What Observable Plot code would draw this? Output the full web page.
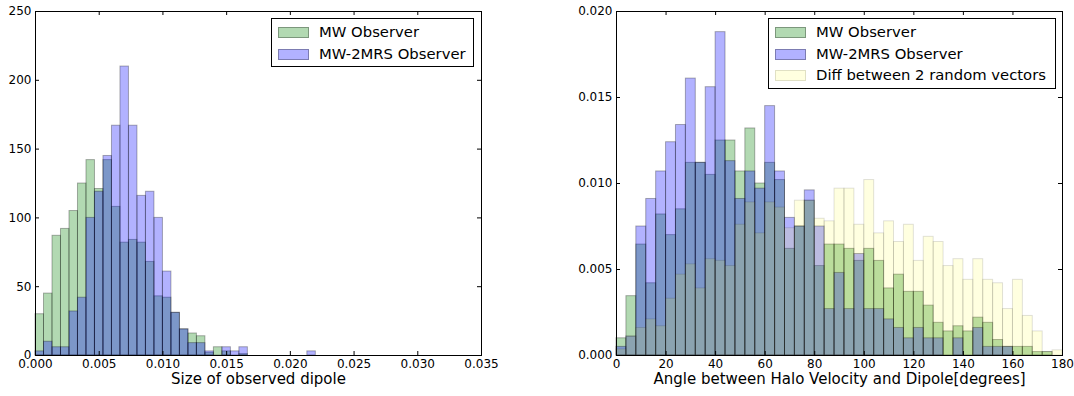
<!DOCTYPE html>
<html>
<head>
<meta charset="utf-8">
<script src="https://cdn.jsdelivr.net/npm/d3@7"></script>
<script src="https://cdn.jsdelivr.net/npm/@observablehq/plot@0.6"></script>
<style>
  html, body { margin: 0; padding: 0; background: #fff; }
  #wrap { position: relative; width: 1074px; height: 396px; font-family: "DejaVu Sans", sans-serif; }
  .panel { position: absolute; top: 0; }
  .legend { position: absolute; background: #fff; border: 1px solid #000; box-sizing: border-box; }
  .row { position: absolute; left: 0; height: 22px; white-space: nowrap; }
  .patch { position: absolute; left: 6px; width: 31px; height: 11px; box-sizing: border-box; border: 1px solid; }
  .lab { position: absolute; left: 47px; font-size: 14.8px; line-height: 16px; color: #000; }
</style>
</head>
<body>
<div id="wrap"></div>
<script>
// ---------- Left panel: Size of observed dipole (counts) ----------
const leftBinWidth = 0.02 / 30;
const leftXTicks = [0, 0.005, 0.010, 0.015, 0.020, 0.025, 0.030, 0.035];
const leftYTicks = [0, 50, 100, 150, 200, 250];
const leftMW = [30, 45, 87, 92, 105, 125, 142, 121, 142, 108, 82, 84, 82, 68, 43, 42, 31, 19, 16, 14, 2, 6, 3, 0, 1, 0, 0, 0, 0, 0, 0, 0, 0];
const left2MRS = [3, 10, 6, 6, 32, 42, 100, 119, 145, 167, 210, 167, 116, 119, 100, 61, 31, 19, 9, 9, 3, 0, 6, 3, 6, 0, 0, 0, 0, 0, 0, 0, 3];

// ---------- Right panel: angle distribution (normalised) ----------
const rightBinWidth = 4;
const rightXTicks = [0, 20, 40, 60, 80, 100, 120, 140, 160, 180];
const rightYTicks = [0, 0.005, 0.010, 0.015, 0.020];
const rightMW = [0.0010, 0.00345, 0.00645, 0.0042, 0.0082, 0.0070, 0.0085, 0.0112, 0.0112, 0.0105, 0.0125, 0.0125, 0.0107, 0.0132, 0.0100, 0.0112, 0.0102, 0.0062, 0.0075, 0.0090, 0.0052, 0.00645, 0.00645, 0.0062, 0.0055, 0.0062, 0.0055, 0.0039, 0.0047, 0.0037, 0.0037, 0.0029, 0.0019, 0.0014, 0.0017, 0.0014, 0.0022, 0.0019, 0.0009, 0.0005, 0.0005, 0.0005, 0.0002, 0.0002, 0];
const right2MRS = [0.0005, 0.0011, 0.0075, 0.0091, 0.0107, 0.0124, 0.0134, 0.0161, 0.0112, 0.0156, 0.0188, 0.0113, 0.0091, 0.0107, 0.0097, 0.0145, 0.0107, 0.0080, 0.0075, 0.0096, 0.0075, 0.0027, 0.0048, 0.0027, 0.0059, 0.0027, 0.0027, 0.0021, 0.0016, 0.0010, 0.0016, 0.0010, 0.0010, 0, 0.0010, 0, 0.0016, 0.0005, 0.0005, 0.0005, 0, 0, 0, 0, 0];
const rightRandom = [0.00035, 0.0011, 0.0016, 0.0021, 0.0017, 0.0033, 0.0047, 0.0053, 0.0039, 0.0056, 0.0055, 0.0052, 0.0076, 0.0089, 0.0071, 0.0089, 0.0086, 0.0074, 0.0090, 0.0090, 0.00795, 0.0078, 0.0097, 0.0097, 0.0076, 0.0102, 0.0071, 0.0078, 0.0066, 0.0076, 0.0055, 0.0069, 0.0066, 0.0052, 0.0056, 0.0044, 0.0056, 0.0044, 0.0042, 0.0027, 0.0044, 0.0023, 0.0014, 0.0002, 0.0003];

const seriesNames = ["MW Observer", "MW-2MRS Observer", "Diff between 2 random vectors"];
const seriesColors = ["#008000", "#0000ff", "#ffff00"];
const seriesAlpha = [0.3, 0.3, 0.12];

const H = 396, MT = 11, MB = 41;

function panel({width, marginLeft, marginRight, xDomain, yDomain, xTicks, yTicks, xFmt, yFmt, series, binWidth, xLabel}) {
  const plotW = width - marginLeft - marginRight;
  const plotH = H - MT - MB;
  const marks = [];
  series.forEach(s => {
    const rows = s.values.map((v, i) => ({x1: i * binWidth, x2: (i + 1) * binWidth, v})).filter(d => d.v > 0);
    marks.push(Plot.rect(rows, {x1: "x1", x2: "x2", y1: 0, y2: "v", fill: s.color, fillOpacity: s.alpha, stroke: "black", strokeOpacity: s.alpha, strokeWidth: 1}));
  });
  marks.push(
    Plot.tickX(xTicks, {x: d => d, insetTop: plotH - 4, stroke: "black", strokeWidth: 1}),
    Plot.tickX(xTicks, {x: d => d, insetBottom: plotH - 4, stroke: "black", strokeWidth: 1}),
    Plot.tickY(yTicks, {y: d => d, insetRight: plotW - 4, stroke: "black", strokeWidth: 1}),
    Plot.tickY(yTicks, {y: d => d, insetLeft: plotW - 4, stroke: "black", strokeWidth: 1}),
    Plot.frame({stroke: "black", strokeWidth: 1}),
    Plot.axisX(xTicks, {tickSize: 0, tickPadding: 4, tickFormat: xFmt, fontSize: 12, label: null}),
    Plot.axisY(yTicks, {tickSize: 0, tickPadding: 4, tickFormat: yFmt, fontSize: 12, label: null}),
    Plot.text([xLabel], {text: d => d, frameAnchor: "bottom", dy: 28, fontSize: 15, fill: "black"})
  );
  return Plot.plot({
    width, height: H,
    marginLeft, marginRight, marginTop: MT, marginBottom: MB,
    x: {domain: xDomain, label: null, axis: null},
    y: {domain: yDomain, label: null, axis: null},
    style: {fontFamily: "DejaVu Sans, sans-serif", fontSize: "12px", color: "black", background: "white", overflow: "visible"},
    marks
  });
}

const wrap = document.getElementById("wrap");

const left = panel({
  width: 537, marginLeft: 35, marginRight: 56,
  xDomain: [0, 0.035], yDomain: [0, 250],
  xTicks: leftXTicks, yTicks: leftYTicks,
  xFmt: d3.format(".3f"), yFmt: d3.format("d"),
  binWidth: leftBinWidth,
  series: [
    {values: leftMW, color: seriesColors[0], alpha: seriesAlpha[0]},
    {values: left2MRS, color: seriesColors[1], alpha: seriesAlpha[1]}
  ],
  xLabel: "Size of observed dipole"
});
left.classList.add("panel");
left.style.left = "0px";
wrap.appendChild(left);

const right = panel({
  width: 537, marginLeft: 79, marginRight: 12,
  xDomain: [0, 180], yDomain: [0, 0.020],
  xTicks: rightXTicks, yTicks: rightYTicks,
  xFmt: d3.format("d"), yFmt: d3.format(".3f"),
  binWidth: rightBinWidth,
  series: [
    {values: rightMW, color: seriesColors[0], alpha: seriesAlpha[0]},
    {values: right2MRS, color: seriesColors[1], alpha: seriesAlpha[1]},
    {values: rightRandom, color: seriesColors[2], alpha: seriesAlpha[2]}
  ],
  xLabel: "Angle between Halo Velocity and Dipole[degrees]"
});
right.classList.add("panel");
right.style.left = "537px";
wrap.appendChild(right);

function legend(left, top, w, n) {
  const box = document.createElement("div");
  box.className = "legend";
  Object.assign(box.style, {left: left + "px", top: top + "px", width: w + "px", height: (n * 21.5 + 6) + "px"});
  for (let i = 0; i < n; i++) {
    const row = document.createElement("div");
    row.className = "row";
    row.style.top = (2 + i * 21.5) + "px";
    const p = document.createElement("div");
    p.className = "patch";
    const c = d3.color(seriesColors[i]);
    c.opacity = seriesAlpha[i];
    p.style.background = c.formatRgb();
    p.style.borderColor = `rgba(0,0,0,${seriesAlpha[i]})`;
    p.style.top = "6px";
    const t = document.createElement("div");
    t.className = "lab";
    t.style.top = "3px";
    t.textContent = seriesNames[i];
    row.appendChild(p);
    row.appendChild(t);
    box.appendChild(row);
  }
  wrap.appendChild(box);
}
legend(271, 18, 203, 2);
legend(768, 18, 288, 3);
</script>
</body>
</html>
